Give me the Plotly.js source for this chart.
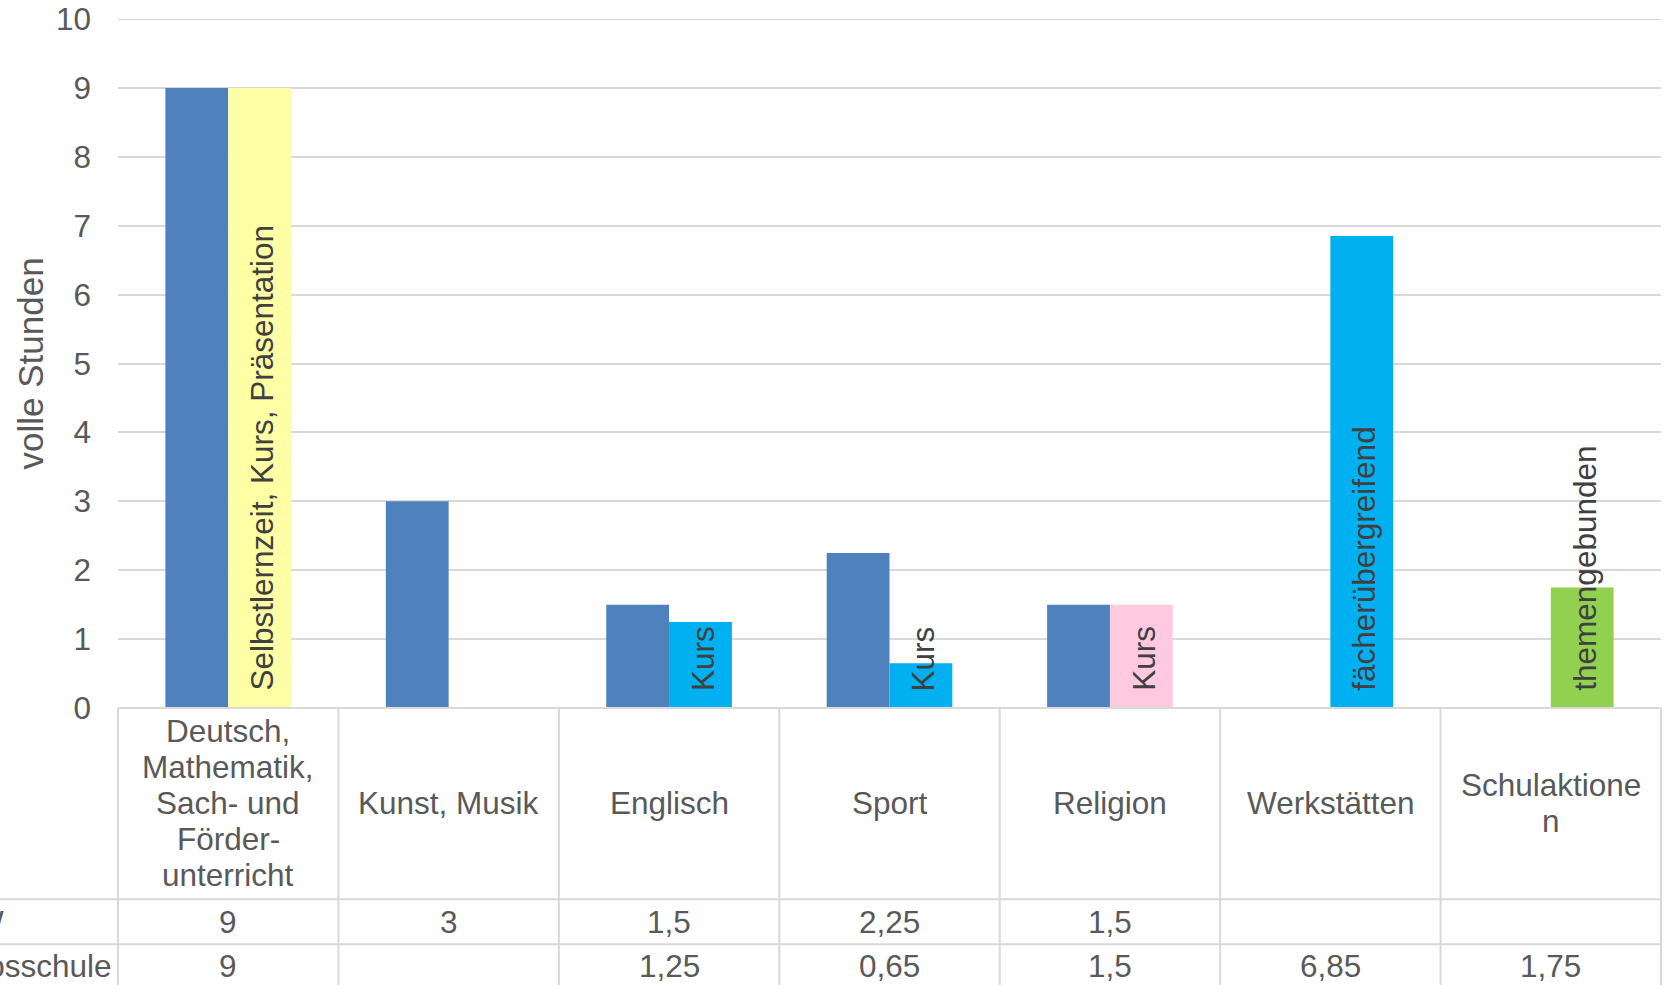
<!DOCTYPE html>
<html>
<head>
<meta charset="utf-8">
<script src="https://cdn.plot.ly/plotly-3.0.1.min.js"></script>
<style>html,body{margin:0;padding:0;background:#fff;}#chart{width:1669px;height:985px;}</style>
</head>
<body>
<div id="chart"></div>
<script>
// ---- data ----
var categories = ["Deutsch, Mathematik, Sach- und Förderunterricht", "Kunst, Musik", "Englisch", "Sport", "Religion", "Werkstätten", "Schulaktionen"];
var categoryLines = [
  ["Deutsch,", "Mathematik,", "Sach- und", "Förder-", "unterricht"],
  ["Kunst, Musik"],
  ["Englisch"],
  ["Sport"],
  ["Religion"],
  ["Werkstätten"],
  ["Schulaktione", "n"]
];
var seriesNames = ["NRW", "Schlosschule"];
var series1 = [9, 3, 1.5, 2.25, 1.5, null, null];
var series2 = [9, null, 1.25, 0.65, 1.5, 6.85, 1.75];
var series2Labels = ["Selbstlernzeit, Kurs, Präsentation", "", "Kurs", "Kurs", "Kurs", "fächerübergreifend", "themengebunden"];
var series1Color = "#4F81BD";
var series2Colors = ["#FFFFA6", "#FFFFA6", "#00B0F0", "#00B0F0", "#FFC9E0", "#00B0F0", "#92D050"];
var yTitle = "volle Stunden";
var yMax = 10;

// ---- layout constants ----
var W = 1669, H = 985;
var mL = 118, mR = 8, mT = 19, mB = 277;
var plotW = W - mL - mR, plotH = H - mT - mB;
var baseY = mT + plotH; // pixel of y=0
var FONT = "Liberation Sans, Arial, sans-serif";
var TXT = "#595959";
var GRID = "#D9D9D9";
var FS = 31.5;
var BARGAP = 0.43;
var catW = plotW / categories.length;
var halfBar = (1 - BARGAP) / 4 * catW;

function fmt(v) { return (v === null || v === undefined) ? "" : String(v).replace(".", ","); }
function py(p) { return -(p - baseY) / plotH; } // pixel y -> paper y
function px(p) { return (p - mL) / plotW; }     // pixel x -> paper x

var traces = [
  {type: "bar", name: seriesNames[0], x: categories, y: series1,
   marker: {color: series1Color}, hoverinfo: "none"},
  {type: "bar", name: seriesNames[1], x: categories, y: series2,
   marker: {color: series2Colors}, hoverinfo: "none"}
];

var annotations = [];
// bar labels (inside base, rotated)
series2Labels.forEach(function (t, i) {
  if (!t) return;
  annotations.push({
    xref: "x", yref: "y", x: categories[i], y: 0, text: t,
    textangle: -90, showarrow: false, xanchor: "center", yanchor: "bottom",
    xshift: halfBar + 2, yshift: 15,
    font: {family: FONT, size: FS, color: "#404040"}
  });
});
// y title
annotations.push({
  xref: "paper", yref: "paper", x: 0, y: 0.5, text: yTitle, textangle: -90,
  showarrow: false, xanchor: "center", yanchor: "middle", xshift: 30 - mL,
  font: {family: FONT, size: 35, color: TXT}
});
// category header row
var headerCenter = 803, lineStep = 36.2;
categoryLines.forEach(function (lines, i) {
  lines.forEach(function (ln, k) {
    var yc = headerCenter + (k - (lines.length - 1) / 2) * lineStep;
    annotations.push({
      xref: "x", yref: "paper", x: categories[i], y: 0, yshift: -(yc - baseY),
      text: ln, showarrow: false, xanchor: "center", yanchor: "middle",
      font: {family: FONT, size: FS, color: TXT}
    });
  });
});
// data rows
var rowCenters = [921.5, 966];
[series1, series2].forEach(function (s, r) {
  s.forEach(function (v, i) {
    if (v === null) return;
    annotations.push({
      xref: "x", yref: "paper", x: categories[i], y: 0, yshift: -(rowCenters[r] - baseY),
      text: fmt(v), showarrow: false, xanchor: "center", yanchor: "middle",
      font: {family: FONT, size: FS, color: TXT}
    });
  });
});
// row labels (cut off at the left edge, as in the original)
var rowLabelRight = [6, 114];
seriesNames.forEach(function (n, r) {
  annotations.push({
    xref: "paper", yref: "paper", x: 0, y: 0, xshift: rowLabelRight[r] - mL,
    yshift: -(rowCenters[r] - baseY), text: n, showarrow: false,
    xanchor: "right", yanchor: "middle",
    font: {family: FONT, size: FS, color: TXT}
  });
});

// table lines and top gridline
var shapes = [];
var lineStyle = {color: GRID, width: 2};
shapes.push({type: "line", xref: "paper", yref: "y", x0: 0, x1: 1, y0: yMax, y1: yMax, line: lineStyle});
shapes.push({type: "line", xref: "paper", yref: "paper", x0: 0, x1: 1, y0: 0, y1: 0, line: lineStyle});
for (var k = 0; k <= categories.length; k++) {
  shapes.push({type: "line", xref: "paper", yref: "paper", x0: k / categories.length, x1: k / categories.length,
    y0: 0, y1: py(H + 10), line: lineStyle});
}
[899.3, 944.3].forEach(function (p) {
  shapes.push({type: "line", xref: "paper", yref: "paper", x0: px(-5), x1: 1, y0: py(p), y1: py(p), line: lineStyle});
});

var layout = {
  width: W, height: H,
  margin: {l: mL, r: mR, t: mT, b: mB, pad: 0},
  paper_bgcolor: "#fff", plot_bgcolor: "#fff",
  showlegend: false,
  barmode: "group", bargap: BARGAP, bargroupgap: 0,
  font: {family: FONT, size: FS, color: TXT},
  xaxis: {type: "category", showticklabels: false, showgrid: false, zeroline: false, showline: false, ticks: "", fixedrange: true},
  yaxis: {range: [0, yMax], dtick: 1, tick0: 0, showgrid: true, gridcolor: GRID, gridwidth: 2,
    zeroline: false, showline: false, ticks: "", ticklabelstandoff: 26,
    tickfont: {family: FONT, size: FS, color: TXT}, fixedrange: true},
  annotations: annotations,
  shapes: shapes
};

Plotly.newPlot("chart", traces, layout, {staticPlot: true, displayModeBar: false});
</script>
</body>
</html>
